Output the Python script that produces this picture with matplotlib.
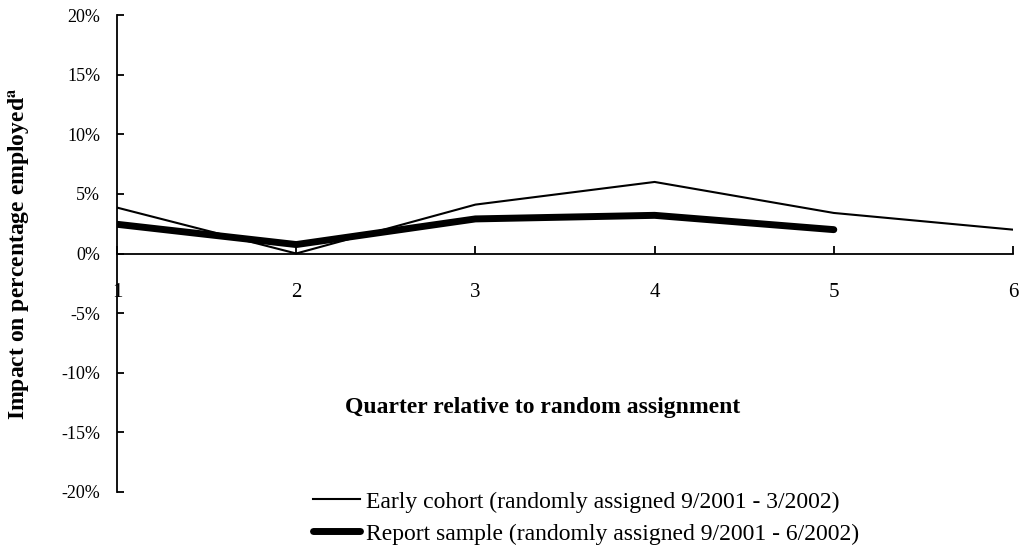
import matplotlib.pyplot as plt
import numpy as np

# impact on percentage employed, by quarter after random assignment
quarters = [1, 2, 3, 4, 5, 6]
early_cohort = [3.85, 0.0, 4.1, 6.0, 3.4, 2.0]
report_quarters = [1, 2, 3, 4, 5]
report_sample = [2.45, 0.75, 2.9, 3.2, 2.0]

yticks = [-20, -15, -10, -5, 0, 5, 10, 15, 20]
ytick_labels = ['%d%%' % v for v in yticks]

early_label = 'Early cohort (randomly assigned 9/2001 - 3/2002)'
report_label = 'Report sample (randomly assigned 9/2001 - 6/2002)'

plt.rcParams['font.family'] = ['Liberation Serif', 'DejaVu Serif']
plt.rcParams['mathtext.fontset'] = 'stix'

fig = plt.figure(figsize=(10.34, 5.5), dpi=100)
ax = fig.add_axes([117/1034, 1 - 492/550, (1013 - 117)/1034, (492 - 15)/550])

ax.plot(quarters, early_cohort, color='black', lw=1.5, label=early_label)
ax.plot(report_quarters, report_sample, color='black', lw=5,
        solid_capstyle='round', solid_joinstyle='round', label=report_label)

# x axis crosses at 0, so move the spine before styling the ticks
for s in ['top', 'right']:
    ax.spines[s].set_visible(False)
ax.spines['bottom'].set_position(('data', 0))
ax.spines['bottom'].set_linewidth(1.3)
ax.spines['left'].set_linewidth(1.3)

ax.set_xlim(1, 6)
ax.set_ylim(-20, 20)
ax.set_xticks(quarters)
ax.set_xticklabels([str(q) for q in quarters])
ax.set_yticks(yticks)
ax.set_yticklabels(ytick_labels)

ax.tick_params(axis='x', direction='in', length=6, width=1.3, pad=21,
               labelsize=15)
ax.tick_params(axis='y', direction='in', length=5, width=1.3, pad=12,
               labelsize=13)

ax.set_ylabel('Impact on percentage employed$^{\\mathbf{a}}$', fontsize=17,
              fontweight='bold')
ax.yaxis.set_label_coords(-0.094, 0.5)
fig.text(543/1034, 1 - 408/550, 'Quarter relative to random assignment',
         fontsize=17, fontweight='bold', ha='center', va='center')

leg = ax.legend(loc='upper left', bbox_to_anchor=(313/1034, 1 - 491/550),
                bbox_transform=fig.transFigure, frameon=False, fontsize=17,
                handlelength=2.0, handletextpad=0.25, labelspacing=0.45,
                borderpad=0, borderaxespad=0)

fig.savefig('out.png', dpi=100)
plt.close()
